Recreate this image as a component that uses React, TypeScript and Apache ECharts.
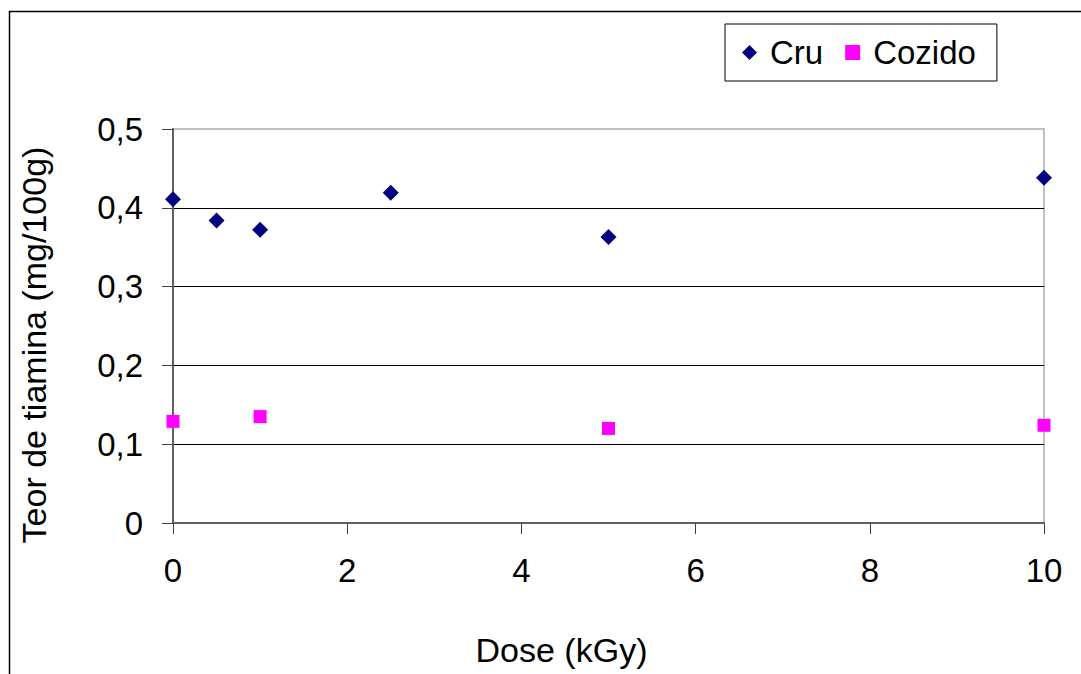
import React, { useEffect, useRef } from "react";
import * as echarts from "echarts";

const doses = [0, 0.5, 1, 2.5, 5, 10];
const cruValues = [0.411, 0.384, 0.372, 0.419, 0.363, 0.438];
const cozidoDoses = [0, 1, 5, 10];
const cozidoValues = [0.129, 0.135, 0.12, 0.124];

const FONT = "'Liberation Sans', Arial, sans-serif";
const FS = 33;
const FS_TITLE = 34;

export default function App() {
  const ref = useRef<HTMLDivElement>(null);
  useEffect(() => {
    document.body.style.margin = "0";
    const chart = echarts.init(ref.current!, null, { renderer: "svg" });
    chart.setOption({
      animation: false,
      backgroundColor: "#ffffff",
      textStyle: { fontFamily: FONT },
      graphic: [
        {
          type: "polyline",
          shape: { points: [[9.5, 700], [9.5, 11.5], [1100, 11.5]] },
          style: { stroke: "#000", lineWidth: 1.5, fill: null },
          silent: true,
        },
      ],
      legend: {
        left: 725,
        top: 24,
        orient: "horizontal",
        padding: [12, 21, 12, 17],
        itemWidth: 15,
        itemHeight: 15,
        itemGap: 22,
        borderColor: "#000",
        borderWidth: 1,
        textStyle: {
          fontSize: FS,
          color: "#000",
          fontFamily: FONT,
          padding: [0, 0, 0, 8],
        },
        data: [
          { name: "Cru", icon: "diamond" },
          { name: "Cozido", icon: "rect" },
        ],
      },
      grid: {
        left: 173,
        top: 129,
        right: 37,
        bottom: 151,
        show: true,
        borderColor: "#c0c0c0",
        borderWidth: 2,
      },
      xAxis: {
        type: "value",
        min: 0,
        max: 10,
        interval: 2,
        name: "Dose (kGy)",
        nameLocation: "middle",
        nameGap: 110,
        nameTextStyle: {
          fontSize: FS_TITLE,
          color: "#000",
          fontFamily: FONT,
          padding: [0, 94, 0, 0],
        },
        axisLine: { show: true, onZero: false, lineStyle: { color: "#606060", width: 2 } },
        axisTick: { show: true, inside: false, length: 11, lineStyle: { color: "#404040", width: 1 } },
        axisLabel: { fontSize: FS, color: "#000", margin: 31, fontFamily: FONT },
        splitLine: { show: false },
      },
      yAxis: {
        type: "value",
        min: 0,
        max: 0.5,
        interval: 0.1,
        name: "Teor de tiamina (mg/100g)",
        nameLocation: "middle",
        nameGap: 122,
        nameTextStyle: {
          fontSize: FS_TITLE,
          color: "#000",
          fontFamily: FONT,
          padding: [0, 38, 0, 0],
        },
        axisLine: { show: true, onZero: false, lineStyle: { color: "#606060", width: 2 } },
        axisTick: { show: true, inside: false, length: 11, lineStyle: { color: "#404040", width: 1 } },
        axisLabel: {
          fontSize: FS,
          color: "#000",
          margin: 30,
          fontFamily: FONT,
          formatter: (v: number) => (v === 0 ? "0" : v.toFixed(1).replace(".", ",")),
        },
        splitLine: {
          show: true,
          lineStyle: {
            color: ["#000", "#000", "#000", "#000", "#000", "#c0c0c0"],
            width: 1,
          },
        },
      },
      series: [
        {
          name: "Cru",
          type: "scatter",
          symbol: "diamond",
          symbolSize: 16,
          itemStyle: { color: "#000080", opacity: 1 },
          data: doses.map((d, i) => [d, cruValues[i]]),
          z: 5,
        },
        {
          name: "Cozido",
          type: "scatter",
          symbol: "rect",
          symbolSize: 13,
          itemStyle: { color: "#ff00ff", opacity: 1 },
          data: cozidoDoses.map((d, i) => [d, cozidoValues[i]]),
          z: 5,
        },
      ],
    });
    return () => chart.dispose();
  }, []);
  return <div ref={ref} style={{ width: 1081, height: 674 }} />;
}
